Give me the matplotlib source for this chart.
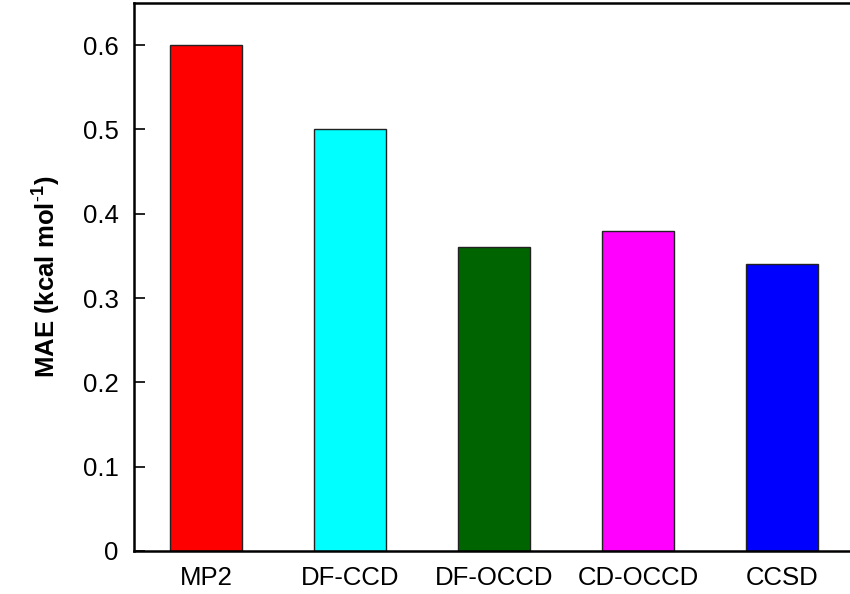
import matplotlib.pyplot as plt

plt.rcParams['font.family'] = ['Liberation Sans', 'DejaVu Sans']
plt.rcParams['mathtext.fontset'] = 'custom'
plt.rcParams['mathtext.bf'] = 'Liberation Sans:bold'
plt.rcParams['mathtext.rm'] = 'Liberation Sans'

methods = ['MP2', 'DF-CCD', 'DF-OCCD', 'CD-OCCD', 'CCSD']
mae = [0.60, 0.50, 0.36, 0.38, 0.34]
colors = ['#ff0000', '#00ffff', '#006400', '#ff00ff', '#0000ff']

fig = plt.figure(figsize=(8.5, 5.94), dpi=100)
ax = fig.add_axes([0.1576, 0.0724, 0.8424, 0.9226])

x = range(len(methods))
ax.bar(x, mae, width=0.5, color=colors, edgecolor='#222222', linewidth=1.0)

ax.set_xlim(-0.5, 4.47)
ax.set_ylim(0, 0.65)
ax.set_yticks([0, 0.1, 0.2, 0.3, 0.4, 0.5, 0.6])
ax.set_yticklabels(['0', '0.1', '0.2', '0.3', '0.4', '0.5', '0.6'])
ax.set_xticks(list(x))
ax.set_xticklabels(methods)

ax.tick_params(axis='y', direction='in', length=8, width=1.2, pad=11, labelsize=18.5)
ax.tick_params(axis='x', length=0, pad=11, labelsize=18.5)

ax.spines['right'].set_visible(False)
for s in ['left', 'top', 'bottom']:
    ax.spines[s].set_linewidth(1.8)

ax.set_ylabel(r'MAE (kcal mol$^{\mathbf{\text{-}1}}$)', fontsize=18.5, fontweight='bold', labelpad=15)

fig.savefig('out.png', dpi=100)
